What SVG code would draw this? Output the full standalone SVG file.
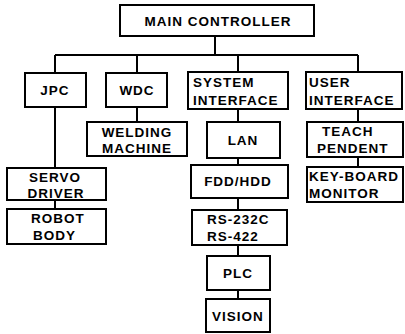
<svg xmlns="http://www.w3.org/2000/svg" width="405" height="334" viewBox="0 0 405 334">
<style>
.box{fill:#fff;stroke:#000;stroke-width:2}
.t{font-family:"Liberation Sans",Arial,sans-serif;font-weight:bold;font-size:13.5px;letter-spacing:1px;fill:#000}
.c{text-anchor:middle}
.ln{stroke:#000;stroke-width:2;fill:none}
</style>
<rect width="405" height="334" fill="#fff"/>
<g id="connectors">
<path class="ln" d="M215 36V55M55 55H358M55 55V73M137 55V73M238 55V72M358 55V72"/>
<path class="ln" d="M55 107V168M55 200V209M137 107V122M238 109V122M238 158V165M238 198V210M238 245V256M238 290V299M358 109V122M358 157V167"/>
</g>
<g id="main"><rect class="box" x="120" y="5" width="194" height="31"/><text class="t c" x="218" y="26">MAIN CONTROLLER</text></g>
<g id="jpc"><rect class="box" x="25" y="73" width="61" height="34"/><text class="t c" x="55" y="95">JPC</text></g>
<g id="wdc"><rect class="box" x="106" y="73" width="61" height="34"/><text class="t c" x="137" y="95">WDC</text></g>
<g id="sysif"><rect class="box" x="188" y="72" width="100" height="37"/><text class="t" x="193" y="87">SYSTEM</text><text class="t" x="193" y="105">INTERFACE</text></g>
<g id="userif"><rect class="box" x="306" y="72" width="96" height="37"/><text class="t" x="309" y="87">USER</text><text class="t" x="309" y="105">INTERFACE</text></g>
<g id="servo"><rect class="box" x="7" y="168" width="99" height="32"/><text class="t c" x="55" y="182">SERVO</text><text class="t c" x="56" y="198">DRIVER</text></g>
<g id="robot"><rect class="box" x="7" y="209" width="99" height="35"/><text class="t" x="31" y="223">ROBOT</text><text class="t" x="33" y="240">BODY</text></g>
<g id="welding"><rect class="box" x="87" y="122" width="100" height="34"/><text class="t c" x="137" y="137">WELDING</text><text class="t c" x="137" y="153">MACHINE</text></g>
<g id="lan"><rect class="box" x="207" y="122" width="73" height="36"/><text class="t c" x="243" y="145">LAN</text></g>
<g id="fdd"><rect class="box" x="191" y="165" width="97" height="33"/><text class="t c" x="238" y="186">FDD/HDD</text></g>
<g id="rs"><rect class="box" x="192" y="210" width="95" height="35"/><text class="t" x="207" y="224">RS-232C</text><text class="t" x="207" y="241">RS-422</text></g>
<g id="plc"><rect class="box" x="207" y="256" width="63" height="34"/><text class="t c" x="238" y="278">PLC</text></g>
<g id="vision"><rect class="box" x="206" y="299" width="64" height="33"/><text class="t c" x="238" y="321">VISION</text></g>
<g id="teach"><rect class="box" x="307" y="122" width="96" height="35"/><text class="t" x="322" y="136">TEACH</text><text class="t" x="317" y="153">PENDENT</text></g>
<g id="keyboard"><rect class="box" x="307" y="167" width="96" height="35"/><text class="t" x="309" y="181">KEY-BOARD</text><text class="t" x="309" y="198">MONITOR</text></g>
</svg>
